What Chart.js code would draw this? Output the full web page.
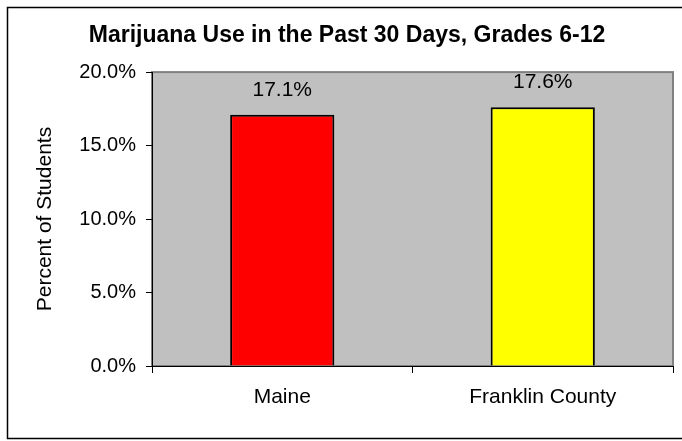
<!DOCTYPE html>
<html>
<head>
<meta charset="utf-8">
<script src="https://cdn.jsdelivr.net/npm/chart.js@4"></script>
<style>
  body { margin: 0; background: #fff; }
</style>
</head>
<body>
<canvas id="grafico" width="682" height="441"></canvas>
<script>
const categorias = ['Maine', 'Franklin County'];
const porcentajes = [17.1, 17.6];
const coloresBarras = ['#FF0000', '#FFFF00'];
const ticksY = [0, 5, 10, 15, 20];

const fuente = "'Liberation Sans', Arial, sans-serif";

// fondo gris del area de trazado + marco exterior
const fondoPlugin = {
  id: 'fondo',
  beforeDraw(chart) {
    const {ctx, chartArea: a} = chart;
    ctx.save();
    ctx.fillStyle = '#fff';
    ctx.fillRect(0, 0, chart.width, chart.height);
    ctx.strokeStyle = '#000';
    ctx.lineWidth = 1.5;
    ctx.strokeRect(7.5, 7.5, 700, 431);
    ctx.fillStyle = '#C0C0C0';
    ctx.fillRect(a.left, a.top, a.right - a.left, a.bottom - a.top);
    ctx.strokeStyle = '#808080';
    ctx.lineWidth = 2;
    ctx.strokeRect(a.left, a.top, a.right - a.left, a.bottom - a.top);
    ctx.restore();
  }
};

// etiquetas de valor encima de cada barra
const etiquetasPlugin = {
  id: 'etiquetas',
  afterDatasetsDraw(chart) {
    const {ctx} = chart;
    const meta = chart.getDatasetMeta(0);
    ctx.save();
    ctx.font = '21px ' + fuente;
    ctx.fillStyle = '#000';
    ctx.textAlign = 'center';
    ctx.textBaseline = 'middle';
    meta.data.forEach((bar, i) => {
      ctx.fillText(porcentajes[i].toFixed(1) + '%', bar.x, bar.y - 25);
    });
    ctx.restore();
  }
};

new Chart(document.getElementById('grafico'), {
  type: 'bar',
  data: {
    labels: categorias,
    datasets: [{
      label: 'Percent of Students',
      data: porcentajes,
      backgroundColor: coloresBarras,
      borderColor: '#000',
      borderWidth: 2,
      barPercentage: 0.40,
      categoryPercentage: 1.0
    }]
  },
  options: {
    responsive: false,
    animation: false,
    devicePixelRatio: 1,
    layout: { padding: { left: 21, right: 9, top: 0, bottom: 0 } },
    plugins: {
      legend: { display: false },
      tooltip: { enabled: false },
      title: {
        display: true,
        text: 'Marijuana Use in the Past 30 Days, Grades 6-12',
        color: '#000',
        font: { family: fuente, size: 23, weight: 'bold' },
        padding: { top: 22, bottom: 22.5 }
      }
    },
    scales: {
      x: {
        afterFit(scale) { scale.height = 75; },
        grid: { offset: true, drawOnChartArea: false, tickLength: 7, color: '#000' },
        border: { display: true, color: '#000', width: 1 },
        ticks: { color: '#000', font: { family: fuente, size: 21 }, padding: 12 }
      },
      y: {
        min: 0,
        max: 20,
        afterFit(scale) { scale.width = 131; },
        afterBuildTicks(scale) { scale.ticks = ticksY.map(v => ({ value: v })); },
        grid: { drawOnChartArea: false, tickLength: 6, color: '#000' },
        border: { display: true, color: '#000', width: 1 },
        ticks: {
          color: '#000',
          font: { family: fuente, size: 20 },
          padding: 10,
          callback: v => v.toFixed(1) + '%'
        },
        title: {
          display: true,
          text: 'Percent of Students',
          color: '#000',
          font: { family: fuente, size: 21 },
          padding: { top: 12, bottom: 0 }
        }
      }
    }
  },
  plugins: [fondoPlugin, etiquetasPlugin]
});
</script>
</body>
</html>
